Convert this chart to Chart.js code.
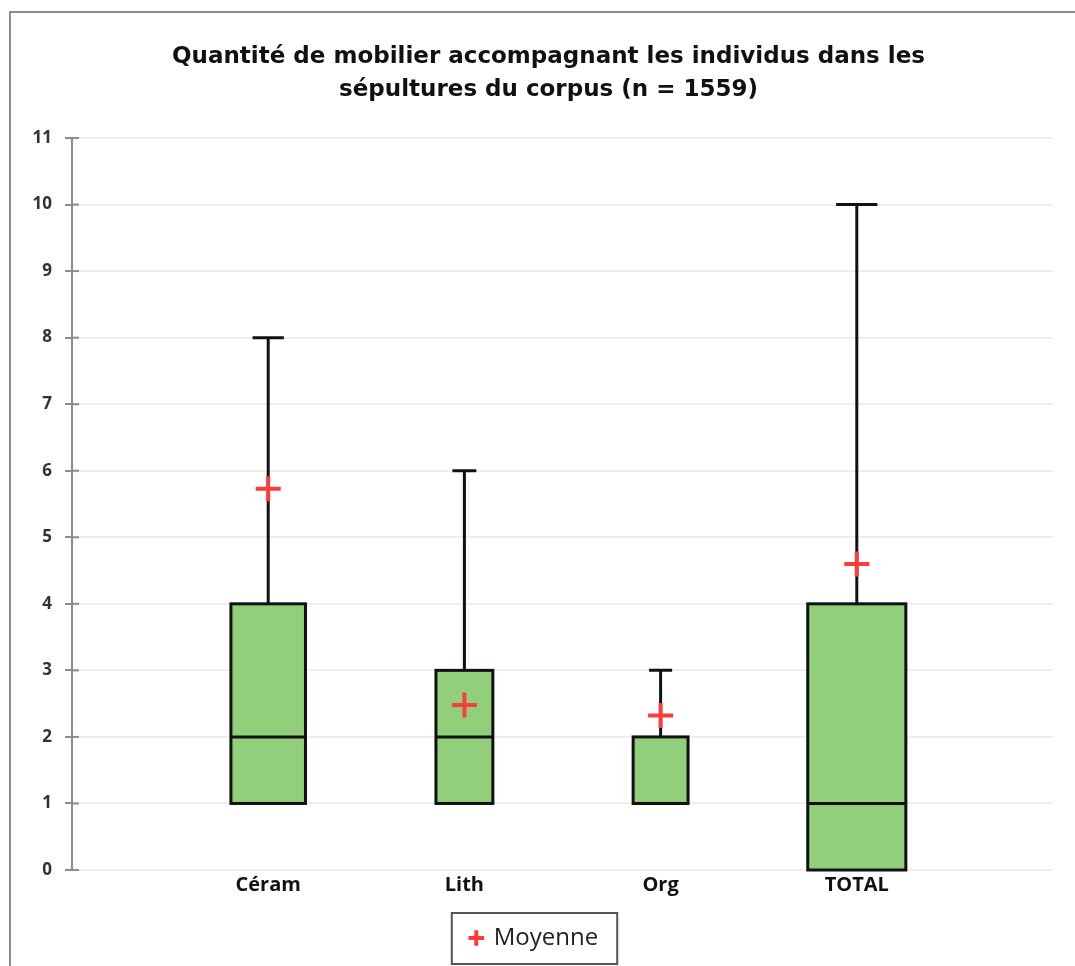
<!DOCTYPE html>
<html>
<head>
<meta charset="utf-8">
<script src="https://cdn.jsdelivr.net/npm/chart.js@4/dist/chart.umd.min.js"></script>
<style>
  html, body { margin: 0; padding: 0; background: #fff; }
  #wrap { position: relative; width: 1075px; height: 966px; overflow: hidden; }
  #frame { position: absolute; left: 9px; top: 11px; width: 1200px; height: 1200px;
           border-left: 2px solid #8c8c8c; border-top: 2px solid #8c8c8c; }
  #chart { position: absolute; left: 0; top: 0; }
</style>
</head>
<body>
<div id="wrap">
  <div id="frame"></div>
  <canvas id="chart" width="1075" height="966"></canvas>
</div>
<script>
// categories and box plot statistics
const categories = ["Céram", "Lith", "Org", "TOTAL"];
const minValues = [1, 1, 1, 0];
const q1Values = [1, 1, 1, 0];
const medianValues = [2, 2, 1, 1];
const q3Values = [4, 3, 2, 4];
const maxValues = [8, 6, 3, 10];
const meanValues = [5.73, 2.48, 2.32, 4.6];
const yTicks = [0, 1, 2, 3, 4, 5, 6, 7, 8, 9, 10, 11];

// box widths in x units (the reference draws them with different widths)
const boxWidths = [0.38, 0.29, 0.28, 0.5];

const boxFill = "#92cf7a";

// draws the boxes, medians and whiskers on the chart's own scales
const boxPlotPlugin = {
  id: "boxPlot",
  afterLayout(chart) {
    // the title sits a bit right of the legend in the reference
    if (chart.titleBlock) {
      chart.titleBlock.left += 17;
      chart.titleBlock.right += 17;
    }
    if (chart.legend) {
      chart.legend.left += 3;
      chart.legend.right += 3;
    }
  },
  beforeDatasetsDraw(chart) {
    const ctx = chart.ctx;
    const xs = chart.scales.x;
    const ys = chart.scales.y;
    const unit = xs.getPixelForValue(1) - xs.getPixelForValue(0);
    ctx.save();
    categories.forEach((cat, i) => {
      const cx = xs.getPixelForValue(i + 1);
      const half = boxWidths[i] * unit / 2;
      const capHalf = half * 0.42;
      const yMin = ys.getPixelForValue(minValues[i]);
      const yQ1 = ys.getPixelForValue(q1Values[i]);
      const yMed = ys.getPixelForValue(medianValues[i]);
      const yQ3 = ys.getPixelForValue(q3Values[i]);
      const yMax = ys.getPixelForValue(maxValues[i]);

      ctx.strokeStyle = "#111";
      ctx.lineWidth = 3;
      // upper whisker
      ctx.beginPath();
      ctx.moveTo(cx, yQ3);
      ctx.lineTo(cx, yMax);
      ctx.moveTo(cx - capHalf, yMax);
      ctx.lineTo(cx + capHalf, yMax);
      // lower whisker
      if (minValues[i] < q1Values[i]) {
        ctx.moveTo(cx, yQ1);
        ctx.lineTo(cx, yMin);
        ctx.moveTo(cx - capHalf, yMin);
        ctx.lineTo(cx + capHalf, yMin);
      }
      ctx.stroke();

      // box
      ctx.fillStyle = boxFill;
      ctx.fillRect(cx - half, yQ3, half * 2, yQ1 - yQ3);
      ctx.lineWidth = 3;
      ctx.strokeRect(cx - half, yQ3, half * 2, yQ1 - yQ3);

      // median
      ctx.beginPath();
      ctx.moveTo(cx - half, yMed);
      ctx.lineTo(cx + half, yMed);
      ctx.stroke();
    });

    // small tick marks on the right side of the y axis line
    ctx.strokeStyle = "#8c8c8c";
    ctx.lineWidth = 2;
    yTicks.forEach((t) => {
      const y = ys.getPixelForValue(t);
      ctx.beginPath();
      ctx.moveTo(xs.left, y);
      ctx.lineTo(xs.left + 7, y);
      ctx.stroke();
    });
    ctx.restore();
  },
  afterDraw(chart) {
    // frame round the legend
    const lg = chart.legend;
    if (!lg || !lg.legendHitBoxes.length) return;
    const hb = lg.legendHitBoxes[0];
    const ctx = chart.ctx;
    const cy = hb.top + hb.height / 2;
    ctx.save();
    ctx.strokeStyle = "#555";
    ctx.lineWidth = 2;
    ctx.strokeRect(hb.left - 19, cy - 25, hb.width + 38, 51);
    ctx.restore();
  }
};

const ctx = document.getElementById("chart").getContext("2d");
new Chart(ctx, {
  type: "scatter",
  data: {
    datasets: [
      {
        label: "Moyenne",
        data: meanValues.map((m, i) => ({ x: i + 1, y: m })),
        pointStyle: "cross",
        pointRadius: 12.5,
        pointHoverRadius: 12.5,
        borderColor: "#ff3b3b",
        backgroundColor: "#ff3b3b",
        borderWidth: 4,
        showLine: false,
      },
    ],
  },
  options: {
    responsive: false,
    animation: false,
    layout: { padding: { left: 10, right: 22, top: 0, bottom: 6 } },
    scales: {
      x: {
        type: "linear",
        min: 0,
        max: 5,
        afterFit: (scale) => { scale.height += 14; },
        grid: { display: false, drawTicks: false },
        border: { display: false },
        ticks: {
          stepSize: 1,
          autoSkip: false,
          padding: 3,
          color: "#111",
          font: { family: "Open Sans", size: 20, weight: "bold" },
          callback: (v) => (v >= 1 && v <= categories.length ? categories[v - 1] : ""),
        },
      },
      y: {
        min: 0,
        max: 11,
        afterFit: (scale) => { scale.width = 62; },
        afterBuildTicks: (scale) => { scale.ticks = yTicks.map((v) => ({ value: v })); },
        grid: {
          color: "#eeeeee",
          lineWidth: 2,
          tickColor: "#8c8c8c",
          tickLength: 7,
        },
        border: { color: "#8c8c8c", width: 2 },
        ticks: {
          color: "#333",
          padding: 13,
          font: { family: "Open Sans", size: 17, weight: "bold" },
        },
      },
    },
    plugins: {
      title: {
        display: true,
        text: [
          "Quantité de mobilier accompagnant les individus dans les",
          "sépultures du corpus (n = 1559)",
        ],
        color: "#111",
        font: { family: "DejaVu Sans", size: 23, weight: "bold", lineHeight: 1.435 },
        padding: { top: 41, bottom: 31 },
      },
      legend: {
        position: "bottom",
        labels: {
          usePointStyle: true,
          boxWidth: 11,
          boxHeight: 11,
          color: "#222",
          padding: 12,
          font: { family: "Open Sans", size: 24 },
        },
      },
      tooltip: { enabled: false },
    },
  },
  plugins: [boxPlotPlugin],
});
</script>
</body>
</html>
